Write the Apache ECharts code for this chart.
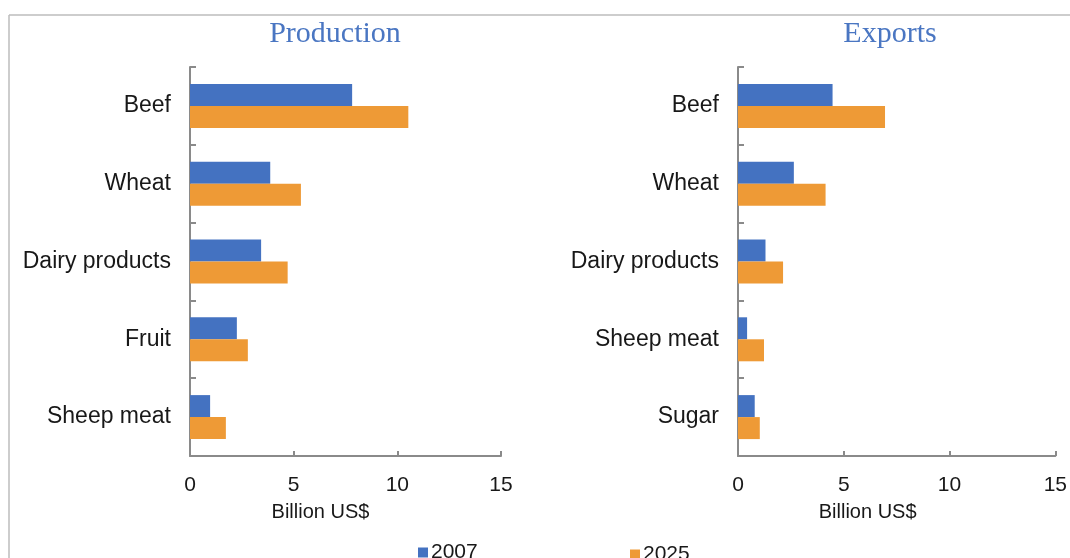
<!DOCTYPE html>
<html>
<head>
<meta charset="utf-8">
<script src="https://cdn.jsdelivr.net/npm/echarts@6/dist/echarts.min.js"></script>
<style>
html,body{margin:0;padding:0;background:#fff;}
#c{width:1070px;height:558px;}
</style>
</head>
<body>
<div id="c"></div>
<script>
const prodCategories = ['Beef', 'Wheat', 'Dairy products', 'Fruit', 'Sheep meat'];
const prod2007 = [7.82, 3.87, 3.43, 2.26, 0.97];
const prod2025 = [10.53, 5.35, 4.71, 2.79, 1.73];

const expCategories = ['Beef', 'Wheat', 'Dairy products', 'Sheep meat', 'Sugar'];
const exp2007 = [4.47, 2.64, 1.30, 0.43, 0.79];
const exp2025 = [6.95, 4.14, 2.13, 1.23, 1.03];

const xTicks = [0, 5, 10, 15];
const titles = ['Production', 'Exports'];
const axisName = 'Billion US$';
const years = ['2007', '2025'];

const BLUE = '#4472C1';
const ORANGE = '#EE9A36';
const AX = '#8a8a8a';
const TXT = '#181818';
const FONT = '"Liberation Sans", Arial, sans-serif';

const chart = echarts.init(document.getElementById('c'));

function xAxis(gridIndex, padRight) {
  return {
    type: 'value', gridIndex: gridIndex, min: xTicks[0], max: xTicks[xTicks.length - 1], interval: 5,
    splitLine: {show: false},
    axisLine: {show: true, lineStyle: {color: AX, width: 2}},
    axisTick: {show: true, inside: true, length: 5, lineStyle: {color: AX, width: 2}},
    axisLabel: {color: TXT, fontSize: 21, fontFamily: FONT, margin: 19},
    name: axisName, nameLocation: 'middle', nameGap: 46,
    nameTextStyle: {color: TXT, fontSize: 20, fontFamily: FONT, padding: [0, padRight, 0, 0]}
  };
}
function yAxis(gridIndex, cats) {
  return {
    type: 'category', gridIndex: gridIndex, data: cats, inverse: true,
    axisLine: {show: true, lineStyle: {color: AX, width: 2}},
    axisTick: {show: true, inside: true, length: 6, lineStyle: {color: AX, width: 2}},
    axisLabel: {color: TXT, fontSize: 23, fontFamily: FONT, margin: 19}
  };
}
function bar(name, data, idx, color) {
  return {
    name: name, type: 'bar', data: data, xAxisIndex: idx, yAxisIndex: idx,
    barWidth: 22, barGap: '0%', itemStyle: {color: color}
  };
}

chart.setOption({
  backgroundColor: '#ffffff',
  animation: false,
  title: [
    {text: titles[0], left: 330, top: 14, textAlign: 'center',
     textStyle: {color: '#4A76C2', fontFamily: '"Liberation Serif", serif', fontSize: 30, fontWeight: 'normal'}},
    {text: titles[1], left: 885, top: 14, textAlign: 'center',
     textStyle: {color: '#4A76C2', fontFamily: '"Liberation Serif", serif', fontSize: 30, fontWeight: 'normal'}}
  ],
  grid: [
    {left: 190, width: 311, top: 67, height: 389},
    {left: 738, width: 318, top: 67, height: 389}
  ],
  xAxis: [xAxis(0, 50), xAxis(1, 58)],
  yAxis: [yAxis(0, prodCategories), yAxis(1, expCategories)],
  legend: [
    {data: [years[0]], left: 413, top: 537, icon: 'rect', itemWidth: 10, itemHeight: 10, itemGap: 4,
     textStyle: {color: TXT, fontSize: 21, fontFamily: FONT, padding: [0, 0, 0, -2]}},
    {data: [years[1]], left: 625, top: 539, icon: 'rect', itemWidth: 10, itemHeight: 10, itemGap: 4,
     textStyle: {color: TXT, fontSize: 21, fontFamily: FONT, padding: [0, 0, 0, -2]}}
  ],
  graphic: [
    {type: 'line', shape: {x1: 9, y1: 15, x2: 1070, y2: 15}, style: {stroke: '#bdbdbd', lineWidth: 1.5}},
    {type: 'line', shape: {x1: 9, y1: 15, x2: 9, y2: 558}, style: {stroke: '#bdbdbd', lineWidth: 1.5}}
  ],
  series: [
    bar(years[0], prod2007, 0, BLUE),
    bar(years[1], prod2025, 0, ORANGE),
    bar(years[0], exp2007, 1, BLUE),
    bar(years[1], exp2025, 1, ORANGE)
  ]
});
</script>
</body>
</html>
